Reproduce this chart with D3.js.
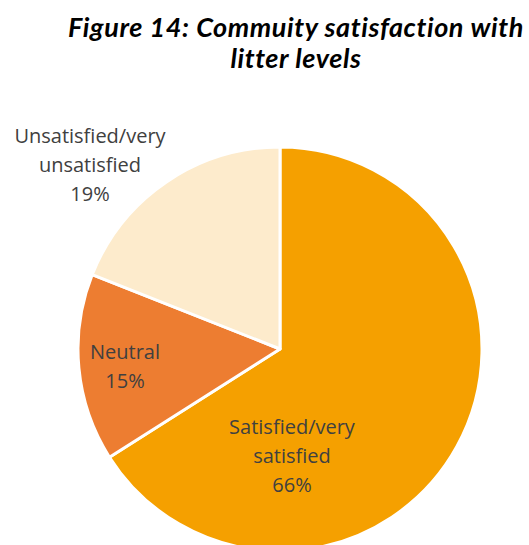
<!DOCTYPE html>
<html>
<head>
<meta charset="utf-8">
<script src="https://cdn.jsdelivr.net/npm/d3@7"></script>
<style>
  html, body { margin: 0; padding: 0; background: #fff; }
  svg { display: block; }
</style>
</head>
<body>
<svg id="chart" width="529" height="545"></svg>
<script>
// Survey response shares
const categories = ["Satisfied/very satisfied", "Neutral", "Unsatisfied/very unsatisfied"];
const values = [66, 15, 19];
const labelLines = [["Satisfied/very", "satisfied"], ["Neutral"], ["Unsatisfied/very", "unsatisfied"]];
const colors = ["#F5A000", "#ED7D31", "#FDEBCC"];
const titleLines = ["Figure 14: Commuity satisfaction with", "litter levels"];

// Label anchors relative to the pie centre (x centre, middle baseline)
const labelAnchors = [[12, 114], [-155, 24], [-190, -177]];

const svg = d3.select("#chart");
const cx = 280, cy = 349, R = 202;

// Title
const title = svg.append("text")
  .attr("text-anchor", "middle")
  .style("font-family", "Lato, sans-serif")
  .style("font-weight", "bold")
  .style("font-style", "italic")
  .style("font-size", "27px")
  .style("letter-spacing", "0.6px")
  .attr("fill", "#000");
titleLines.forEach((t, i) => {
  title.append("tspan").attr("x", 296).attr("y", 37 + i * 31).text(t);
});

const data = categories.map((c, i) => ({ name: c, value: values[i], lines: labelLines[i], color: colors[i], anchor: labelAnchors[i] }));

const pie = d3.pie().value(d => d.value).sort(null);
const arc = d3.arc().innerRadius(0).outerRadius(R);
const arcs = pie(data);
const total = d3.sum(values);

const g = svg.append("g").attr("transform", `translate(${cx},${cy})`);

g.selectAll("path")
  .data(arcs)
  .join("path")
  .attr("d", arc)
  .attr("fill", d => d.data.color)
  .attr("stroke", "#fff")
  .attr("stroke-width", 3)
  .attr("stroke-linejoin", "round");

// Data labels: category name plus percentage
const lineH = 29;
arcs.forEach(a => {
  const lines = a.data.lines.concat([d3.format(".0%")(a.data.value / total)]);
  const [x, y] = a.data.anchor;
  const t = g.append("text")
    .attr("text-anchor", "middle")
    .style("font-family", "'Open Sans', sans-serif")
    .style("font-size", "20px")
    .attr("fill", "#404040");
  lines.forEach((ln, j) => {
    t.append("tspan")
      .attr("x", x)
      .attr("y", y + (j - (lines.length - 1) / 2) * lineH)
      .text(ln);
  });
});
</script>
</body>
</html>
